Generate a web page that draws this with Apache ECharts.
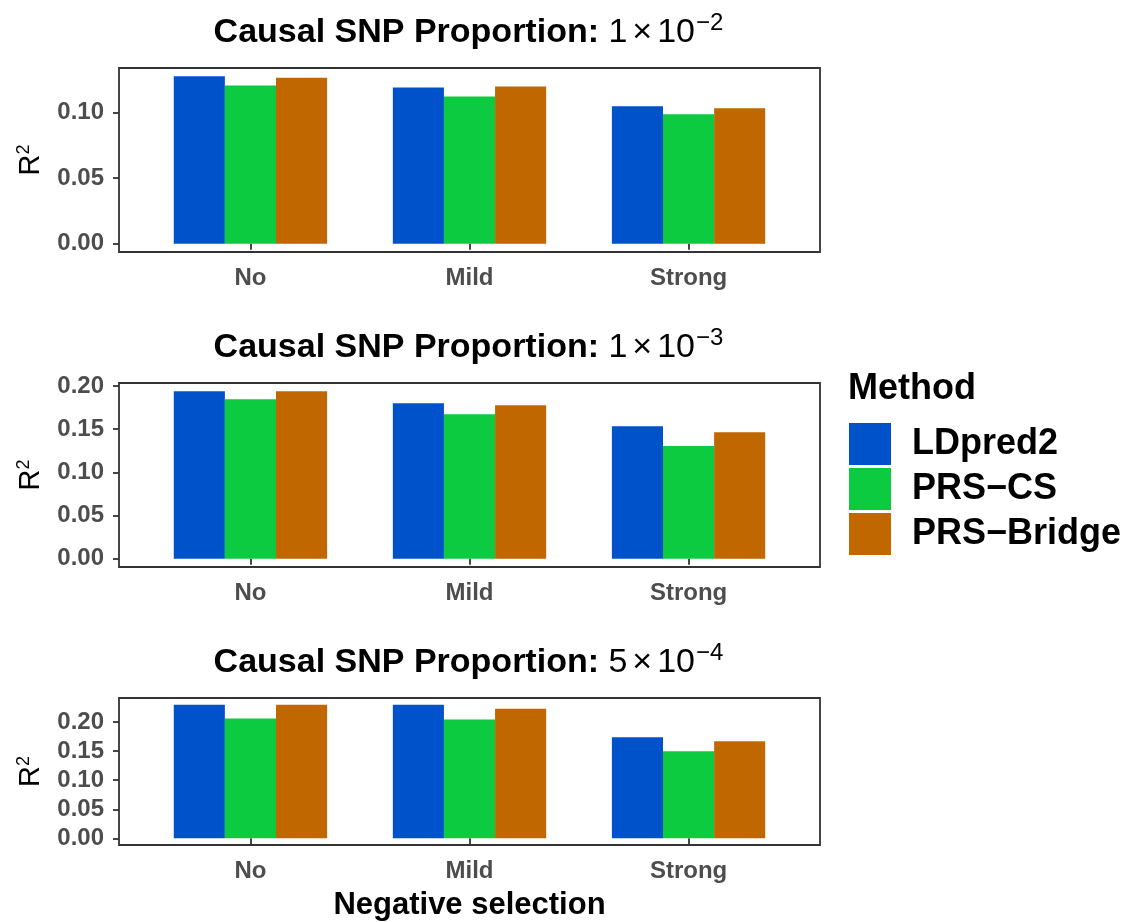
<!DOCTYPE html>
<html>
<head>
<meta charset="utf-8">
<script src="https://cdn.jsdelivr.net/npm/echarts@6.0.0/dist/echarts.min.js"></script>
<style>
html,body{margin:0;padding:0;background:#fff;}
#chart{width:1131px;height:922px;}
</style>
</head>
<body>
<div id="chart"></div>
<script>
// ---- data ----
const categories = ['No', 'Mild', 'Strong'];
const methods = ['LDpred2', 'PRS\u2212CS', 'PRS\u2212Bridge'];
const colors = ['#0052CB', '#0DCB41', '#C16700'];

const panelMantissa = ['1', '1', '5'];
const panelExponent = ['\u22122', '\u22123', '\u22124'];

const p1_LDpred2 = [0.1277, 0.1192, 0.1048];
const p1_PRSCS = [0.1207, 0.1124, 0.0987];
const p1_Bridge = [0.1267, 0.1199, 0.1033];

const p2_LDpred2 = [0.1938, 0.1800, 0.1535];
const p2_PRSCS = [0.1846, 0.1673, 0.1304];
const p2_Bridge = [0.1938, 0.1777, 0.1465];

const p3_LDpred2 = [0.2301, 0.2301, 0.1739];
const p3_PRSCS = [0.2062, 0.2045, 0.1500];
const p3_Bridge = [0.2301, 0.2233, 0.1670];

const yTicks1 = [0, 0.05, 0.10];
const yTicks2 = [0, 0.05, 0.10, 0.15, 0.20];
const yTicks3 = [0, 0.05, 0.10, 0.15, 0.20];
const xTicks = [1, 2, 3];

// ---- build ----
const panels = [
  { data: [p1_LDpred2, p1_PRSCS, p1_Bridge], ticks: yTicks1, top: 68, height: 184 },
  { data: [p2_LDpred2, p2_PRSCS, p2_Bridge], ticks: yTicks2, top: 383, height: 184 },
  { data: [p3_LDpred2, p3_PRSCS, p3_Bridge], ticks: yTicks3, top: 698, height: 147 }
];
const FONT = "'Liberation Sans', Arial, Helvetica, sans-serif";
const PANEL_LEFT = 119, PANEL_W = 701;

const grids = [], xAxes = [], yAxes = [], series = [], titles = [];
panels.forEach((p, i) => {
  const maxV = Math.max(...p.data.flat());
  grids.push({
    left: PANEL_LEFT, width: PANEL_W, top: p.top, height: p.height,
    show: true, borderColor: '#333333', borderWidth: 1.8, backgroundColor: 'transparent',
    outerBoundsMode: 'none', containLabel: false
  });
  xAxes.push({
    type: 'value', gridIndex: i, min: 0.4, max: 3.6,
    axisLine: { show: false },
    splitLine: { show: false },
    axisTick: { show: true, customValues: xTicks, length: 6, lineStyle: { color: '#333333', width: 1.8 } },
    axisLabel: {
      customValues: xTicks, margin: 14,
      formatter: v => categories[Math.round(v) - 1],
      color: '#4D4D4D', fontWeight: 'bold', fontSize: 24, fontFamily: FONT
    },
    name: i === 2 ? 'Negative selection' : '',
    nameLocation: 'middle', nameGap: 45,
    nameTextStyle: { color: '#000', fontWeight: 'bold', fontSize: 31, fontFamily: FONT }
  });
  yAxes.push({
    type: 'value', gridIndex: i,
    min: -0.05 * maxV, max: 1.05 * maxV,
    axisLine: { show: false },
    splitLine: { show: false },
    axisTick: { show: true, customValues: p.ticks, length: 6, lineStyle: { color: '#333333', width: 1.8 } },
    axisLabel: {
      customValues: p.ticks, margin: 15,
      formatter: v => v.toFixed(2),
      color: '#4D4D4D', fontWeight: 'bold', fontSize: 24, fontFamily: FONT
    },
    name: 'R{s|2}', nameLocation: 'middle', nameGap: 72, nameRotate: 90,
    nameTextStyle: {
      color: '#000', fontSize: 29, fontFamily: FONT,
      rich: { s: { fontSize: 18, fontFamily: FONT, color: '#000', verticalAlign: 'top', padding: [0, 0, 14, 0] } }
    }
  });
  p.data.forEach((vals, k) => {
    series.push({
      type: 'bar', name: methods[k], xAxisIndex: i, yAxisIndex: i,
      data: vals.map((v, j) => [xTicks[j], v]),
      barWidth: '23.333%', barGap: '0%',
      itemStyle: { color: colors[k] },
      emphasis: { disabled: true },
      animation: false
    });
  });
  titles.push({
    text: '{b|Causal SNP Proportion: }{n|' + panelMantissa[i] + '}{x|\u00d7}{n|10}{s|' + panelExponent[i] + '}',
    left: PANEL_LEFT + PANEL_W / 2 - 1, top: p.top - 60, textAlign: 'center', padding: 0,
    textStyle: {
      rich: {
        b: { fontSize: 34, fontWeight: 'bold', color: '#000', fontFamily: FONT, lineHeight: 42, verticalAlign: 'bottom' },
        n: { fontSize: 34, fontWeight: 'normal', color: '#000', fontFamily: FONT, lineHeight: 42, verticalAlign: 'bottom' },
        x: { fontSize: 34, fontWeight: 'normal', color: '#000', fontFamily: FONT, lineHeight: 42, padding: [0, 5, 0, 5], verticalAlign: 'bottom' },
        s: { fontSize: 24, fontWeight: 'normal', color: '#000', fontFamily: FONT, lineHeight: 42, verticalAlign: 'bottom', padding: [0, 0, 15, 1] }
      }
    }
  });
});
titles.push({
  text: 'Method', left: 848, top: 371, padding: 0,
  textStyle: { fontSize: 36, fontWeight: 'bold', color: '#000', fontFamily: FONT }
});

const option = {
  animation: false,
  backgroundColor: '#ffffff',
  title: titles,
  grid: grids,
  xAxis: xAxes,
  yAxis: yAxes,
  legend: {
    data: methods, orient: 'vertical', left: 849, top: 423, padding: 0,
    itemWidth: 42, itemHeight: 42, itemGap: 3, icon: 'rect',
    selectedMode: false,
    textStyle: { fontSize: 36, fontWeight: 'bold', color: '#000', fontFamily: FONT, padding: [0, 0, 0, 16], lineHeight: 42 }
  },
  series: series
};
const chart = echarts.init(document.getElementById('chart'), null, { renderer: 'canvas' });
chart.setOption(option);
</script>
</body>
</html>
